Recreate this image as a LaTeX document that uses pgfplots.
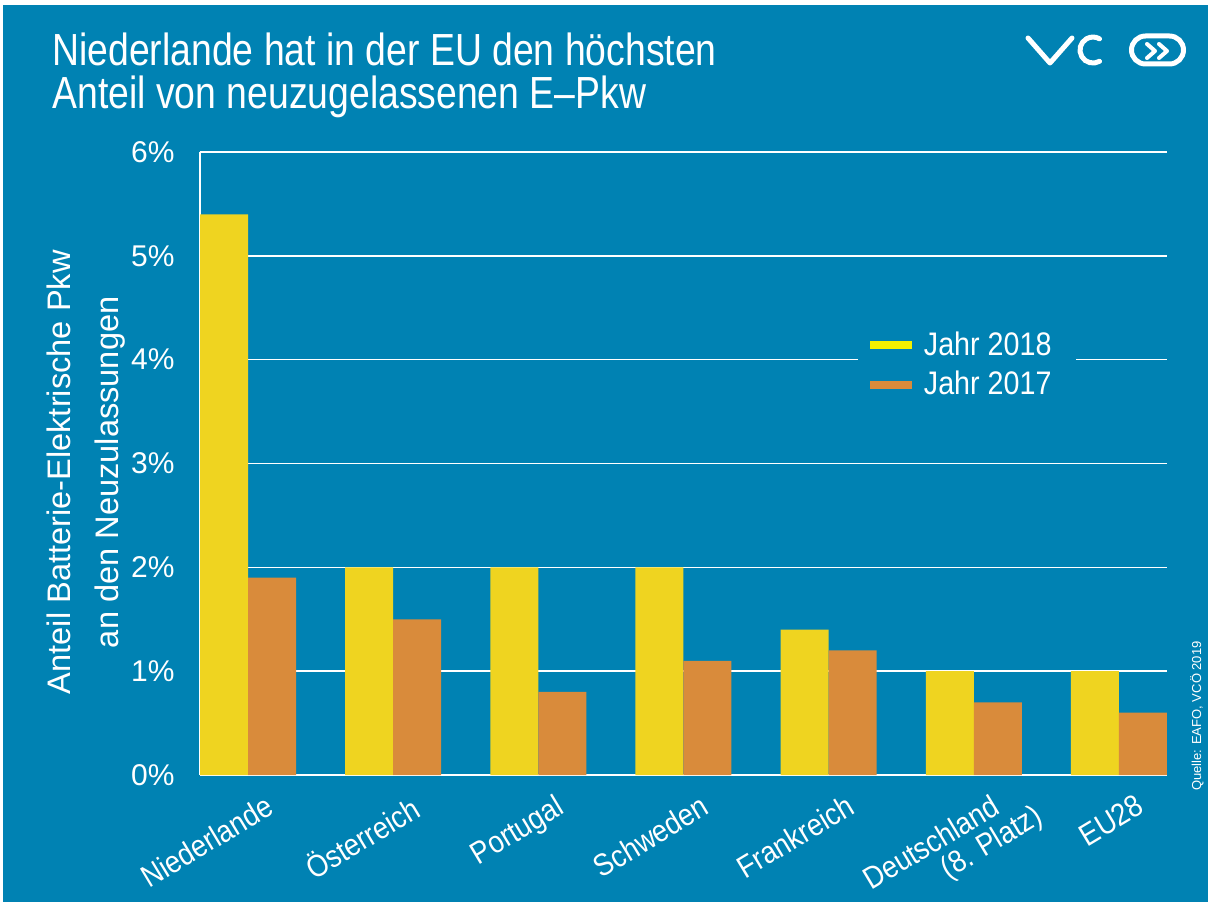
\documentclass[border=0pt]{standalone}
\usepackage{fontspec}
\usepackage{pgfplots}
\pgfplotsset{compat=1.18}
\setmainfont[FakeStretch=0.88]{Liberation Sans}
\newfontfamily\titlefont[FakeStretch=0.83]{Liberation Sans}
\newfontfamily\plainfont{Liberation Sans}
\definecolor{bgblue}{HTML}{0082B3}
\definecolor{baryellow}{HTML}{EFD420}
\definecolor{barorange}{HTML}{D98B3B}
\definecolor{legyellow}{HTML}{F4F000}
\begin{document}
\begin{tikzpicture}
% background (pixel coordinates: 1px = 0.5pt, origin at plot lower-left)
\useasboundingbox (-100pt,387.5pt) rectangle (506pt,-63.5pt);
\begin{scope}[shift={(-100pt,387.5pt)},x=0.5pt,y=-0.5pt]
  \fill[white] (0,0) rectangle (1212,902);
  \fill[bgblue] (3,5) rectangle (1208,902);
\end{scope}
\begin{axis}[
  at={(0pt,0pt)}, anchor=south west,
  scale only axis, width=483.5pt, height=311.5pt,
  xmin=-0.331, xmax=6.331, ymin=0, ymax=6,
  axis x line*=bottom, axis y line*=left,
  axis line style={white, line width=0.8pt, -},
  ymajorgrids, grid style={white, line width=0.8pt},
  major tick length=0pt,
  ybar=0pt, bar width=24pt,
  xtick={0,...,6},
  xticklabels={Niederlande,Österreich,Portugal,Schweden,Frankreich,{Deutschland\\\hspace*{36pt}\rlap{(8. Platz)}},EU28},
  xticklabel style={white, font=\fontsize{15.5}{15}\selectfont, align=left, inner sep=0pt, xshift=8pt, yshift=-9pt, rotate=31, anchor=north east},
  ytick={0,...,6},
  yticklabels={0\%,1\%,2\%,3\%,4\%,5\%,6\%},
  yticklabel style={white, font=\plainfont\fontsize{15}{15}\selectfont, inner sep=0pt, xshift=-12.5pt, anchor=east},
  /pgf/number format/assume math mode=true,
  ylabel={Anteil Batterie-Elektrische Pkw\\an den Neuzulassungen},
  ylabel style={white, font=\plainfont\fontsize{16.3}{24}\selectfont, align=center, at={(axis description cs:-0.118,0.486)}, anchor=center},
  legend style={fill=bgblue, draw=none, text=white, font=\fontsize{16.3}{16}\selectfont, at={(0.680,0.738)}, anchor=north west, row sep=2.5pt, inner sep=6pt, nodes={inner xsep=6pt}},
  legend cell align=left,
  legend image code/.code={\fill[#1] (0pt,-2pt) rectangle (21pt,2pt);},
]
\addplot[fill=baryellow, draw=none, legend image post style={fill=legyellow}] coordinates {(0,5.4) (1,2.0) (2,2.0) (3,2.0) (4,1.4) (5,1.0) (6,1.0)};
\addplot[fill=barorange, draw=none] coordinates {(0,1.9) (1,1.5) (2,0.8) (3,1.1) (4,1.2) (5,0.7) (6,0.6)};
\legend{Jahr 2018, Jahr 2017}
\end{axis}
\begin{scope}[shift={(-100pt,387.5pt)},x=0.5pt,y=-0.5pt]
  \node[white, anchor=base west, inner sep=0pt, font=\titlefont\fontsize{22.5}{26}\selectfont] at (52,65) {Niederlande hat in der EU den höchsten};
  \node[white, anchor=base west, inner sep=0pt, font=\titlefont\fontsize{22.5}{26}\selectfont] at (52,108) {Anteil von neuzugelassenen E–Pkw};
  \node[white, rotate=90, anchor=center, inner sep=0pt, font=\plainfont\fontsize{6.5}{8}\selectfont] at (1197,716) {Quelle: EAFO, VCÖ 2019};
  % logo
  \draw[white, line width=2.5pt, line cap=round, line join=round] (1028,38) -- (1050,63) -- (1072,38);
  \draw[white, line width=2.5pt, line cap=round] (1099.5,61.3) arc[start angle=60, end angle=300, radius=13];
  \draw[white, line width=2.5pt] (1145.5,36) -- (1169.5,36) arc[start angle=-90,end angle=90,radius=14] -- (1145.5,64) arc[start angle=90,end angle=270,radius=14] -- cycle;
  \draw[white, line width=2pt, line cap=round, line join=round] (1147,44) -- (1155,51) -- (1147,58) (1159,44) -- (1167,51) -- (1159,58);
\end{scope}
\end{tikzpicture}
\end{document}
